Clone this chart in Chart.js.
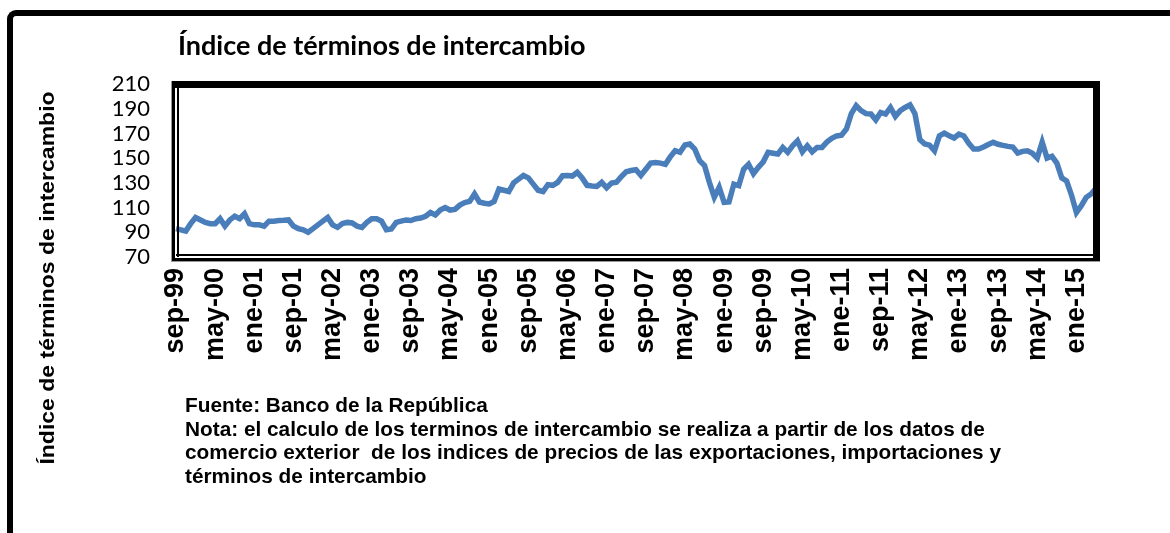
<!DOCTYPE html>
<html>
<head>
<meta charset="utf-8">
<script src="https://cdn.jsdelivr.net/npm/chart.js@4/dist/chart.umd.min.js"></script>
<style>
    body { margin: 0; background: #fff; }
    #wrap { position: relative; width: 1170px; height: 533px; overflow: hidden; }
    #c { position: absolute; left: 0; top: 0; }
    .frame {
        position: absolute; left: 7px; top: 10px; width: 1250px; height: 600px;
        border-left: 6px solid #000; border-top: 6px solid #000;
        border-top-left-radius: 9px; box-sizing: border-box;
    }
    .title {
        position: absolute; left: 178px; top: 28px;
        font: bold 27px Lato, sans-serif; color: #000; white-space: nowrap;
    }
    .ytitle {
        position: absolute; left: -153px; top: 266px; width: 400px; text-align: center;
        font: bold 20px "Liberation Sans", Arial, sans-serif; line-height: 24px;
        transform: rotate(-90deg) scaleX(1.15); white-space: nowrap;
    }
    .note {
        position: absolute; left: 185px; top: 393px;
        font: bold 20.8px "Liberation Sans", Arial, sans-serif; line-height: 23.7px;
        white-space: nowrap;
    }
</style>
</head>
<body>
<div id="wrap">
    <div class="frame"></div>
    <canvas id="c" width="1170" height="533"></canvas>
    <div class="title">Índice de términos de intercambio</div>
    <div class="ytitle">Índice de términos de intercambio</div>
    <div class="note">Fuente: Banco de la República<br>Nota: el calculo de los terminos de intercambio se realiza a partir de los datos de<br>comercio exterior &nbsp;de los indices de precios de las exportaciones, importaciones y<br>términos de intercambio</div>
</div>
<script>
    // meses en español, serie mensual sep-99 .. may-15
    const monthNames = ['ene', 'feb', 'mar', 'abr', 'may', 'jun', 'jul', 'ago', 'sep', 'oct', 'nov', 'dic'];
    const tickLabels = ['sep-99', 'may-00', 'ene-01', 'sep-01', 'may-02', 'ene-03', 'sep-03', 'may-04',
        'ene-05', 'sep-05', 'may-06', 'ene-07', 'sep-07', 'may-08', 'ene-09', 'sep-09', 'may-10',
        'ene-11', 'sep-11', 'may-12', 'ene-13', 'sep-13', 'may-14', 'ene-15'];
    const tickEvery = 8;

    const indexValues = [
        93, 92, 91, 97, 102, 100, 98, 97, 97, 101, 95, 100,                 // sep-99
        103, 101, 105, 97, 96, 96, 95, 99, 99, 99.5, 99.7, 100,             // sep-00
        95, 93, 92, 90, 93, 96, 99, 102, 96, 94, 97, 98,                    // sep-01
        97.5, 95, 94, 98, 101, 101, 99, 92, 92.6, 98, 99, 100,              // sep-02
        99.5, 101, 101.5, 103, 106, 104, 108, 110, 108, 108.5, 112, 114,    // sep-03
        115, 121, 114.5, 113.5, 113, 115, 125, 124, 123, 130, 133, 136,     // sep-04
        134, 129, 124, 123, 128.5, 128, 130.4, 135.8, 136, 135.5, 138.5, 134, // sep-05
        128, 127.5, 127.2, 130.4, 126, 129.9, 130.5, 135, 139, 140, 140.6, 136, // sep-06
        141, 146, 146.5, 146, 145, 151, 156, 154.7, 160.6, 161.4, 157.4, 148, // sep-07
        144, 130.4, 118.3, 126.4, 114.2, 114.6, 129, 127.8, 141, 145, 137.5, 142.6, // sep-08
        147, 154.7, 154, 153.3, 158.7, 154.7, 160, 164, 155.2, 160, 155.2, 158.7, // sep-09
        158.7, 163, 166, 168, 168.5, 173.6, 186, 192.4, 188.4, 186, 185.7, 181, // sep-10
        187, 185.7, 191, 183.8, 188.4, 191, 193, 186, 165, 161.4, 160.5, 156, // sep-11
        168, 170.3, 168, 166.3, 169.5, 168, 162, 157.4, 157.4, 159, 161, 162.8, // sep-12
        161.2, 160.3, 159.5, 159, 154.1, 155.5, 156, 154, 150, 163, 150, 151.5, // sep-13
        146, 134, 131.5, 120, 106, 111.5, 118.3, 121, 125.6                 // sep-14
    ];

    const yMin = 70, yMax = 210, yStep = 20;

    const labels = [];
    let m = 8, y = 1999;
    indexValues.forEach(() => {
        labels.push(monthNames[m] + '-' + String(y % 100).padStart(2, '0'));
        m++;
        if (m === 12) { m = 0; y++; }
    });

    // marco del área de gráfico (borde grueso estilo Excel)
    const plotFrame = {
        id: 'plotFrame',
        afterDraw(chart) {
            const { ctx, chartArea: { left, right, top, bottom } } = chart;
            const w = right - left;
            ctx.save();
            ctx.fillStyle = '#999';
            ctx.fillRect(left - 5, top - 3, 1, bottom - top + 8);
            ctx.fillRect(left - 4, bottom + 4, w + 8, 1);
            ctx.fillStyle = '#000';
            ctx.fillRect(left - 4, top - 3, w + 8, 7);          // arriba
            ctx.fillRect(right - 3, top - 3, 7, bottom - top + 7); // derecha
            ctx.fillRect(left - 4, top - 3, 3, bottom - top + 7);  // izquierda ext.
            ctx.fillRect(left + 1, top, 2, bottom - top);          // izquierda int.
            ctx.fillRect(left - 4, bottom + 1, w + 8, 3);          // abajo ext.
            ctx.fillRect(left, bottom - 3, w, 2);                  // abajo int.
            ctx.restore();
        }
    };

    new Chart(document.getElementById('c'), {
        type: 'line',
        data: {
            labels: labels,
            datasets: [{
                data: indexValues,
                borderColor: '#4a7ebb',
                borderWidth: 5.5,
                pointRadius: 0,
                tension: 0,
                fill: false
            }]
        },
        options: {
            responsive: false,
            animation: false,
            devicePixelRatio: 1,
            layout: { padding: { left: 0, top: 84, right: 74, bottom: 0 } },
            plugins: { legend: { display: false }, tooltip: { enabled: false } },
            scales: {
                x: {
                    type: 'category',
                    offset: false,
                    grid: { display: false, drawTicks: false },
                    border: { display: false },
                    afterFit: s => { s.height = 276; },
                    ticks: {
                        autoSkip: false,
                        minRotation: 90,
                        maxRotation: 90,
                        padding: 11,
                        color: '#000',
                        font: { family: '"Liberation Sans", Arial, sans-serif', size: 27, weight: 'bold' },
                        callback: (v, i) => i % tickEvery === 0 ? tickLabels[i / tickEvery] : ''
                    }
                },
                y: {
                    min: yMin,
                    max: yMax,
                    grid: { display: false, drawTicks: false },
                    border: { display: false },
                    afterFit: s => { s.width = 176; },
                    ticks: {
                        autoSkip: false,
                        stepSize: yStep,
                        padding: 26,
                        color: '#000',
                        font: { family: 'Lato, sans-serif', size: 22 }
                    }
                }
            }
        },
        plugins: [plotFrame]
    });
</script>
</body>
</html>
